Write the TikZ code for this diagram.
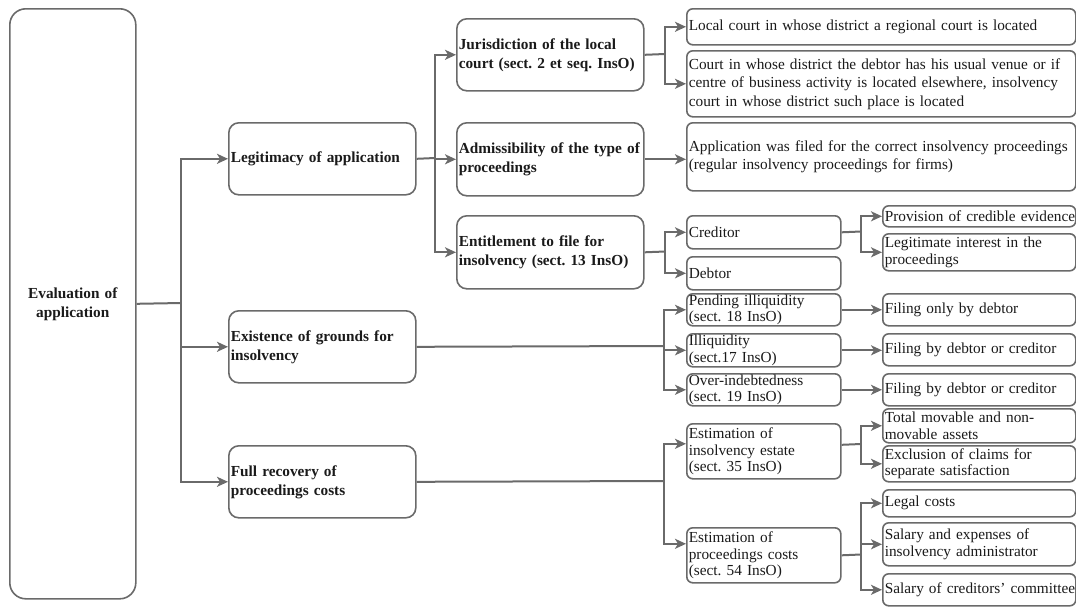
\documentclass[tikz,border=0pt]{standalone}
\usepackage{fontspec}
\setmainfont{Liberation Serif}
\usetikzlibrary{arrows.meta}
\definecolor{linec}{HTML}{6A6A6A}
\definecolor{textc}{HTML}{1A1A1A}
\frenchspacing
\hyphenpenalty=10000
\exhyphenpenalty=10000
\tikzset{
  box/.style={draw=linec, line width=1.6pt, rounded corners=6pt, fill=white,
    inner xsep=2pt, inner ysep=0pt, anchor=north west, align=left, text=textc,
    font=\fontsize{15.3}{18.5}\selectfont},
  bigbox/.style={box, rounded corners=10pt},
  bold/.style={font=\fontsize{15.3}{19}\selectfont\bfseries},
  tight/.style={font=\fontsize{15.3}{16.5}\selectfont},
  link/.style={draw=linec, line width=2pt},
  arr/.style={link, -{Stealth[length=11pt,width=10pt,inset=3pt]}},
}
% #1 style, #2 name, #3 x, #4 y, #5 width, #6 height, #7 text
\newcommand\boxnode[7]{%
  \pgfmathsetmacro\bxw{#5-4}%
  \node[#1, minimum width=#5pt, text width=\bxw pt, minimum height=#6pt] (#2) at (#3,#4) {#7};}
\begin{document}
\begin{tikzpicture}[x=1pt,y=-1pt]
\useasboundingbox (0,0) rectangle (1076,606);

% root
\node[box, rounded corners=16pt, bold, align=center, anchor=north west,
      minimum width=126pt, minimum height=590pt, text width=122pt] (root) at (9,8)
      {Evaluation of\\application};

% first level
\boxnode{bigbox,bold}{legit}{228}{122}{187}{72}{Legitimacy of application}
\boxnode{bigbox,bold}{exist}{228}{310}{187}{72}{Existence of grounds for\\insolvency}
\boxnode{bigbox,bold}{full}{228}{445}{187}{72}{Full recovery of\\proceedings costs}

% second level (legitimacy)
\boxnode{bigbox,bold}{juris}{456}{18}{187}{72}{Jurisdiction of the local\\court (sect. 2 et seq. InsO)}
\boxnode{bigbox,bold}{admiss}{456}{122}{187}{73}{Admissibility of the type of\\proceedings}
\boxnode{bigbox,bold}{entitle}{456}{215}{187}{73}{Entitlement to file for\\insolvency (sect. 13 InsO)}

% jurisdiction and admissibility details
\boxnode{box}{local}{686}{8}{389}{36}{Local court in whose district a regional court is located}
\boxnode{box}{court}{686}{50}{389}{66}{Court in whose district the debtor has his usual venue or if\\centre of business activity is located elsewhere, insolvency\\court in whose district such place is located}
\boxnode{box}{appl}{686}{122}{389}{68}{Application was filed for the correct insolvency proceedings\\(regular insolvency proceedings for firms)}

% entitlement
\boxnode{box}{cred}{686}{215}{154}{33}{Creditor}
\boxnode{box}{debt}{686}{256}{154}{33}{Debtor}
\boxnode{box,inner xsep=1.5pt}{prov}{882}{205}{193}{21}{\mbox{Provision of credible evidence}}
\boxnode{box,tight}{legint}{882}{233}{193}{37}{Legitimate interest in the\\proceedings}

% grounds for insolvency
\boxnode{box,tight}{pend}{686}{293}{154}{32}{Pending illiquidity\\(sect. 18 InsO)}
\boxnode{box,tight}{illiq}{686}{333}{154}{33}{Illiquidity\\(sect.17 InsO)}
\boxnode{box,tight}{over}{686}{373}{154}{32}{Over-indebtedness\\(sect. 19 InsO)}
\boxnode{box}{fil1}{882}{293}{193}{32}{Filing only by debtor}
\boxnode{box}{fil2}{882}{333}{193}{32}{Filing by debtor or creditor}
\boxnode{box}{fil3}{882}{373}{193}{32}{Filing by debtor or creditor}

% proceedings costs
\boxnode{box,tight}{est1}{686}{423}{154}{55}{Estimation of\\insolvency estate\\(sect. 35 InsO)}
\boxnode{box,tight}{est2}{686}{527}{154}{55}{Estimation of\\proceedings costs\\(sect. 54 InsO)}
\boxnode{box,tight}{total}{882}{408}{193}{34}{Total movable and non-\\movable assets}
\boxnode{box,tight}{excl}{882}{445}{193}{36}{Exclusion of claims for\\separate satisfaction}
\boxnode{box}{legal}{882}{489}{193}{27}{Legal costs}
\boxnode{box,tight}{salary}{882}{522}{193}{43}{Salary and expenses of\\insolvency administrator}
\boxnode{box,inner xsep=1.5pt}{comm}{882}{573}{193}{32}{\mbox{Salary of creditors' committee}}

% branching points
\coordinate (f0) at (181,303);
\coordinate (f1) at (435,158);
\coordinate (f2) at (665,54);
\coordinate (f3) at (665,251.5);
\coordinate (f4) at (861,231.5);
\coordinate (f5) at (664,346);
\coordinate (f6) at (664,481);
\coordinate (f7) at (861,444);
\coordinate (f8) at (861,554.5);

% root to first level
\draw[link] (root.east) -- (f0);
\draw[arr] (f0) |- (legit.west);
\draw[arr] (f0) |- (exist.west);
\draw[arr] (f0) |- (full.west);

% legitimacy
\draw[link] (legit.east) -- (f1);
\draw[arr] (f1) |- (juris.west);
\draw[arr] (f1) |- (admiss.west);
\draw[arr] (f1) |- (entitle.west);

\draw[link] (juris.east) -- (f2);
\draw[arr] (f2) |- (local.west);
\draw[arr] (f2) |- (court.west);
\draw[arr] (admiss.east) -- (admiss.east -| appl.west);

\draw[link] (entitle.east) -- (f3);
\draw[arr] (f3) |- (cred.west);
\draw[arr] (f3) |- (debt.west);
\draw[link] (cred.east) -- (f4);
\draw[arr] (f4) |- (prov.west);
\draw[arr] (f4) |- (legint.west);

% grounds
\draw[link] (exist.east) -- (f5);
\draw[arr] (f5) |- (pend.west);
\draw[arr] (f5) |- (illiq.west);
\draw[arr] (f5) |- (over.west);
\draw[arr] (pend.east) -- (pend.east -| fil1.west);
\draw[arr] (illiq.east) -- (illiq.east -| fil2.west);
\draw[arr] (over.east) -- (over.east -| fil3.west);

% costs
\draw[link] (full.east) -- (f6);
\draw[arr] (f6) |- ([yshift=7.5pt]est1.west);
\draw[arr] (f6) |- ([yshift=11.5pt]est2.west);
\draw[link] ([yshift=6.5pt]est1.east) -- (f7);
\draw[arr] (f7) |- (total.west);
\draw[arr] (f7) |- (excl.west);
\draw[link] (est2.east) -- (f8);
\draw[arr] (f8) |- (legal.west);
\draw[arr] (f8) |- (salary.west);
\draw[arr] (f8) |- (comm.west);
\end{tikzpicture}
\end{document}
